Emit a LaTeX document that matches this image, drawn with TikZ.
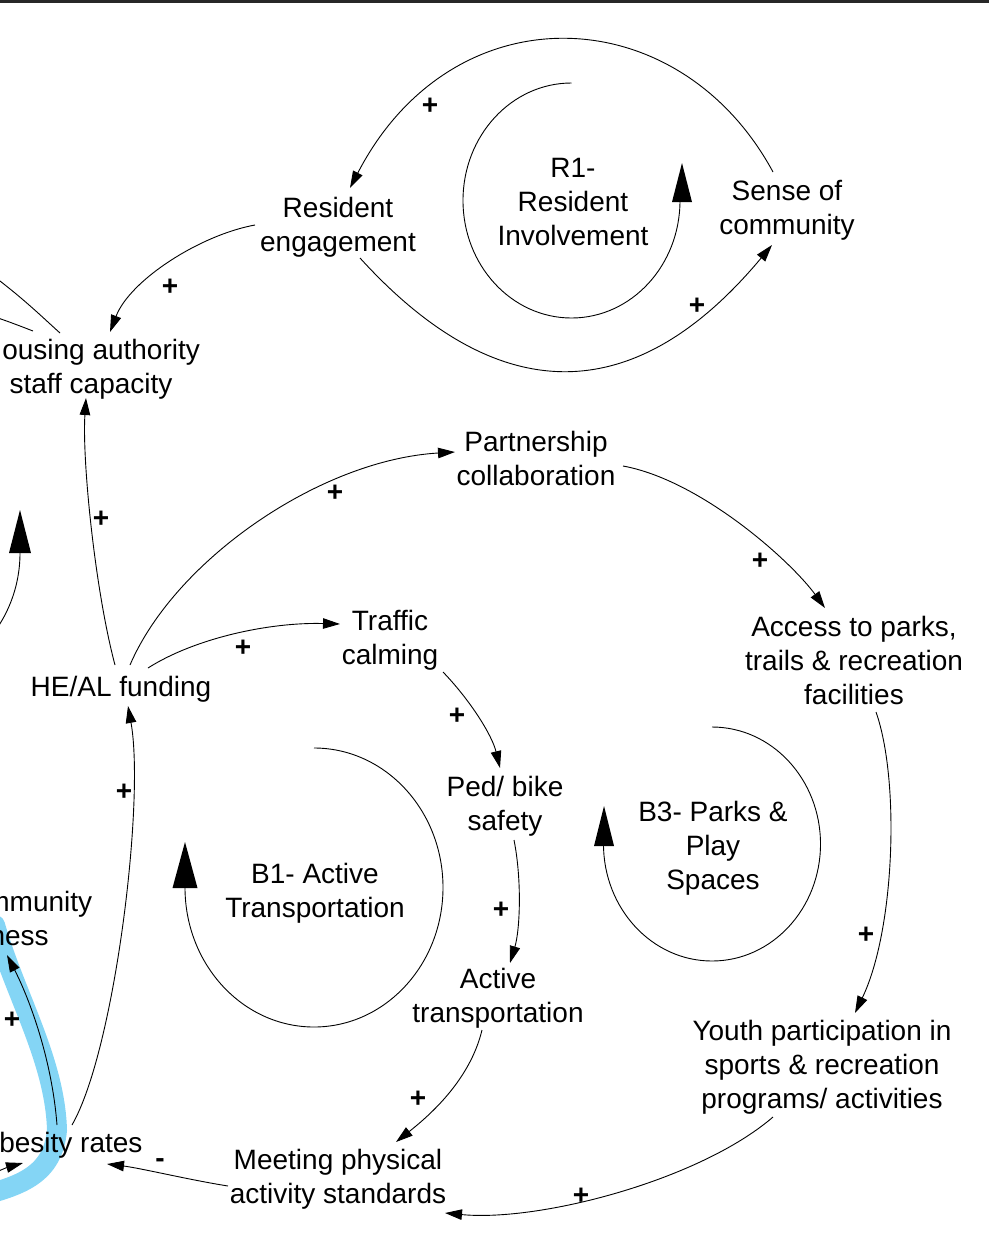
\documentclass[tikz,border=0pt]{standalone}
\usepackage{fontspec}
\setmainfont{Liberation Sans}
\usetikzlibrary{arrows.meta,calc}
\definecolor{hilite}{RGB}{132,213,245}
\definecolor{barcol}{RGB}{40,40,40}

\begin{document}
\begin{tikzpicture}[x=1pt,y=-1pt,
  var/.style={font=\fontsize{28}{34}\selectfont, align=center, inner sep=0pt},
  sign/.style={font=\fontsize{28}{34}\selectfont\bfseries, inner sep=0pt},
  link/.style={line width=0.9pt, -{Triangle[length=17pt,width=10.5pt]}},
  plain/.style={line width=0.9pt},
  loopline/.style={line width=0.9pt},
  highlight/.style={line width=20pt, hilite, line cap=round}]

\useasboundingbox (0,0) rectangle (989,1251);
\fill[barcol] (0,0) rectangle (989,3);

% highlighted path on the left edge
\draw[highlight] (-5,925) .. controls (15,995) and (55,1060) .. (57,1130)
  .. controls (53,1175) and (20,1185) .. (-15,1195);

% variables
\node[var] (res)     at (338,227)  {Resident\\engagement};
\node[var] (sense)   at (787,210)  {Sense of\\community};
\node[var] (hac)     at (91,369)   {Housing authority\\staff capacity};
\node[var] (partner) at (536,458)  {Partnership\\collaboration};
\node[var] (traffic) at (390,640)  {Traffic\\calming};
\node[var] (heal)    at (121,689)  {HE/AL funding};
\node[var] (access)  at (854,660)  {Access to parks,\\trails \& recreation\\facilities};
\node[var] (ped)     at (505,806)  {Ped/ bike\\safety};
\node[var] (active)  at (498,998)  {Active\\transportation};
\node[var] (youth)   at (822,1067) {Youth participation in\\sports \& recreation\\programs/ activities};
\node[var] (meeting) at (338,1179) {Meeting physical\\activity standards};
\node[var] (obesity) at (60,1145)  {Obesity rates};
\node[var] (comm)    at (-19,918)  {Whole community\\awareness};

% loop names
\node[var] (r1) at (573,202) {R1-\\Resident\\Involvement};
\node[var] (b1) at (315,893) {B1- Active\\Transportation};
\node[var] (b3) at (713,848) {B3- Parks \&\\Play\\Spaces};

% loop markers
\draw[loopline] (571.5,83) arc[start angle=270, end angle=0, x radius=108.5, y radius=117.5];
\fill (672,202) -- (692,202) -- (682,163) -- cycle;
\draw[loopline] (314,748) arc[start angle=270, end angle=540, x radius=129, y radius=139.5];
\fill (172.5,888) -- (197.5,888) -- (185,842) -- cycle;
\draw[loopline] (712,727) arc[start angle=270, end angle=540, x radius=108.5, y radius=117];
\fill (594,846) -- (614,846) -- (604,806) -- cycle;
\draw[loopline] (-114.8,687.8) arc[start angle=90, end angle=0, x radius=134.8, y radius=134.8];
\fill (9,553) -- (31,553) -- (20,510) -- cycle;

% causal links
\draw[link] ($(sense)+(-14,-38)$) .. controls (679,-2) and (453,-11) .. ($(res)+(12,-39)$);
\draw[link] ($(res)+(22,31)$) .. controls (489,400) and (627,419) .. ($(sense)+(-15,35)$);
\draw[link] ($(res)+(-83,-2)$) .. controls (200,235) and (130,280) .. ($(hac)+(19,-37)$);
\draw[link] ($(heal)+(-6,-24)$) .. controls (95,590) and (82,460) .. ($(hac)+(-5,29)$);
\draw[link] ($(heal)+(9,-24)$) .. controls (175,560) and (320,460) .. ($(partner)+(-81,-6)$);
\draw[link] ($(heal)+(27,-21)$) .. controls (195,638) and (270,622) .. ($(traffic)+(-50,-16)$);
\draw[link] ($(partner)+(87,8)$) .. controls (700,480) and (790,560) .. ($(access)+(-29,-52)$);
\draw[link] ($(traffic)+(53,32)$) .. controls (470,700) and (492,735) .. ($(ped)+(-5,-38)$);
\draw[link] ($(ped)+(9,34)$) .. controls (522,880) and (520,930) .. ($(active)+(12,-35)$);
\draw[link] ($(active)+(-16,32)$) .. controls (470,1080) and (430,1115) .. ($(meeting)+(58,-37)$);
\draw[link] ($(meeting)+(-110,7)$) .. controls (190,1180) and (140,1168) .. ($(obesity)+(47,19)$);
\draw[link] ($(obesity)+(12,-20)$) .. controls (115,1050) and (145,800) .. ($(heal)+(7,17)$);
\draw[link] ($(access)+(22,52)$) .. controls (900,780) and (895,930) .. ($(youth)+(33,-54)$);
\draw[link] ($(youth)+(-49,50)$) .. controls (700,1180) and (540,1222) .. ($(meeting)+(107,34)$);
\draw[link] ($(obesity)+(-3,-20)$) .. controls (52,1060) and (30,1000) .. ($(comm)+(26,37)$);

% links reaching beyond the left edge
\coordinate (westin)  at (-30,1178);
\coordinate (westup)  at (-20,266);
\coordinate (westmid) at (-20,312);
\draw[link] (westin) .. controls (-5,1174) and (5,1168) .. ($(obesity)+(-37,18)$);
\draw[plain] ($(hac)+(-31,-36)$) .. controls (40,315) and (20,295) .. (westup);
\draw[plain] ($(hac)+(-58,-38)$) .. controls (20,326) and (5,320) .. (westmid);

% polarity signs
\node[sign] (s1)  at (430,106)  {+};
\node[sign] (s2)  at (697,306)  {+};
\node[sign] (s3)  at (170,287)  {+};
\node[sign] (s4)  at (101,519)  {+};
\node[sign] (s5)  at (335,493)  {+};
\node[sign] (s6)  at (243,648)  {+};
\node[sign] (s7)  at (760,561)  {+};
\node[sign] (s8)  at (457,716)  {+};
\node[sign] (s9)  at (501,910)  {+};
\node[sign] (s10) at (418,1099) {+};
\node[sign] (s11) at (160,1163) {-};
\node[sign] (s12) at (124,792)  {+};
\node[sign] (s13) at (866,935)  {+};
\node[sign] (s14) at (581,1196) {+};
\node[sign] (s15) at (12,1020)  {+};
\end{tikzpicture}
\end{document}
